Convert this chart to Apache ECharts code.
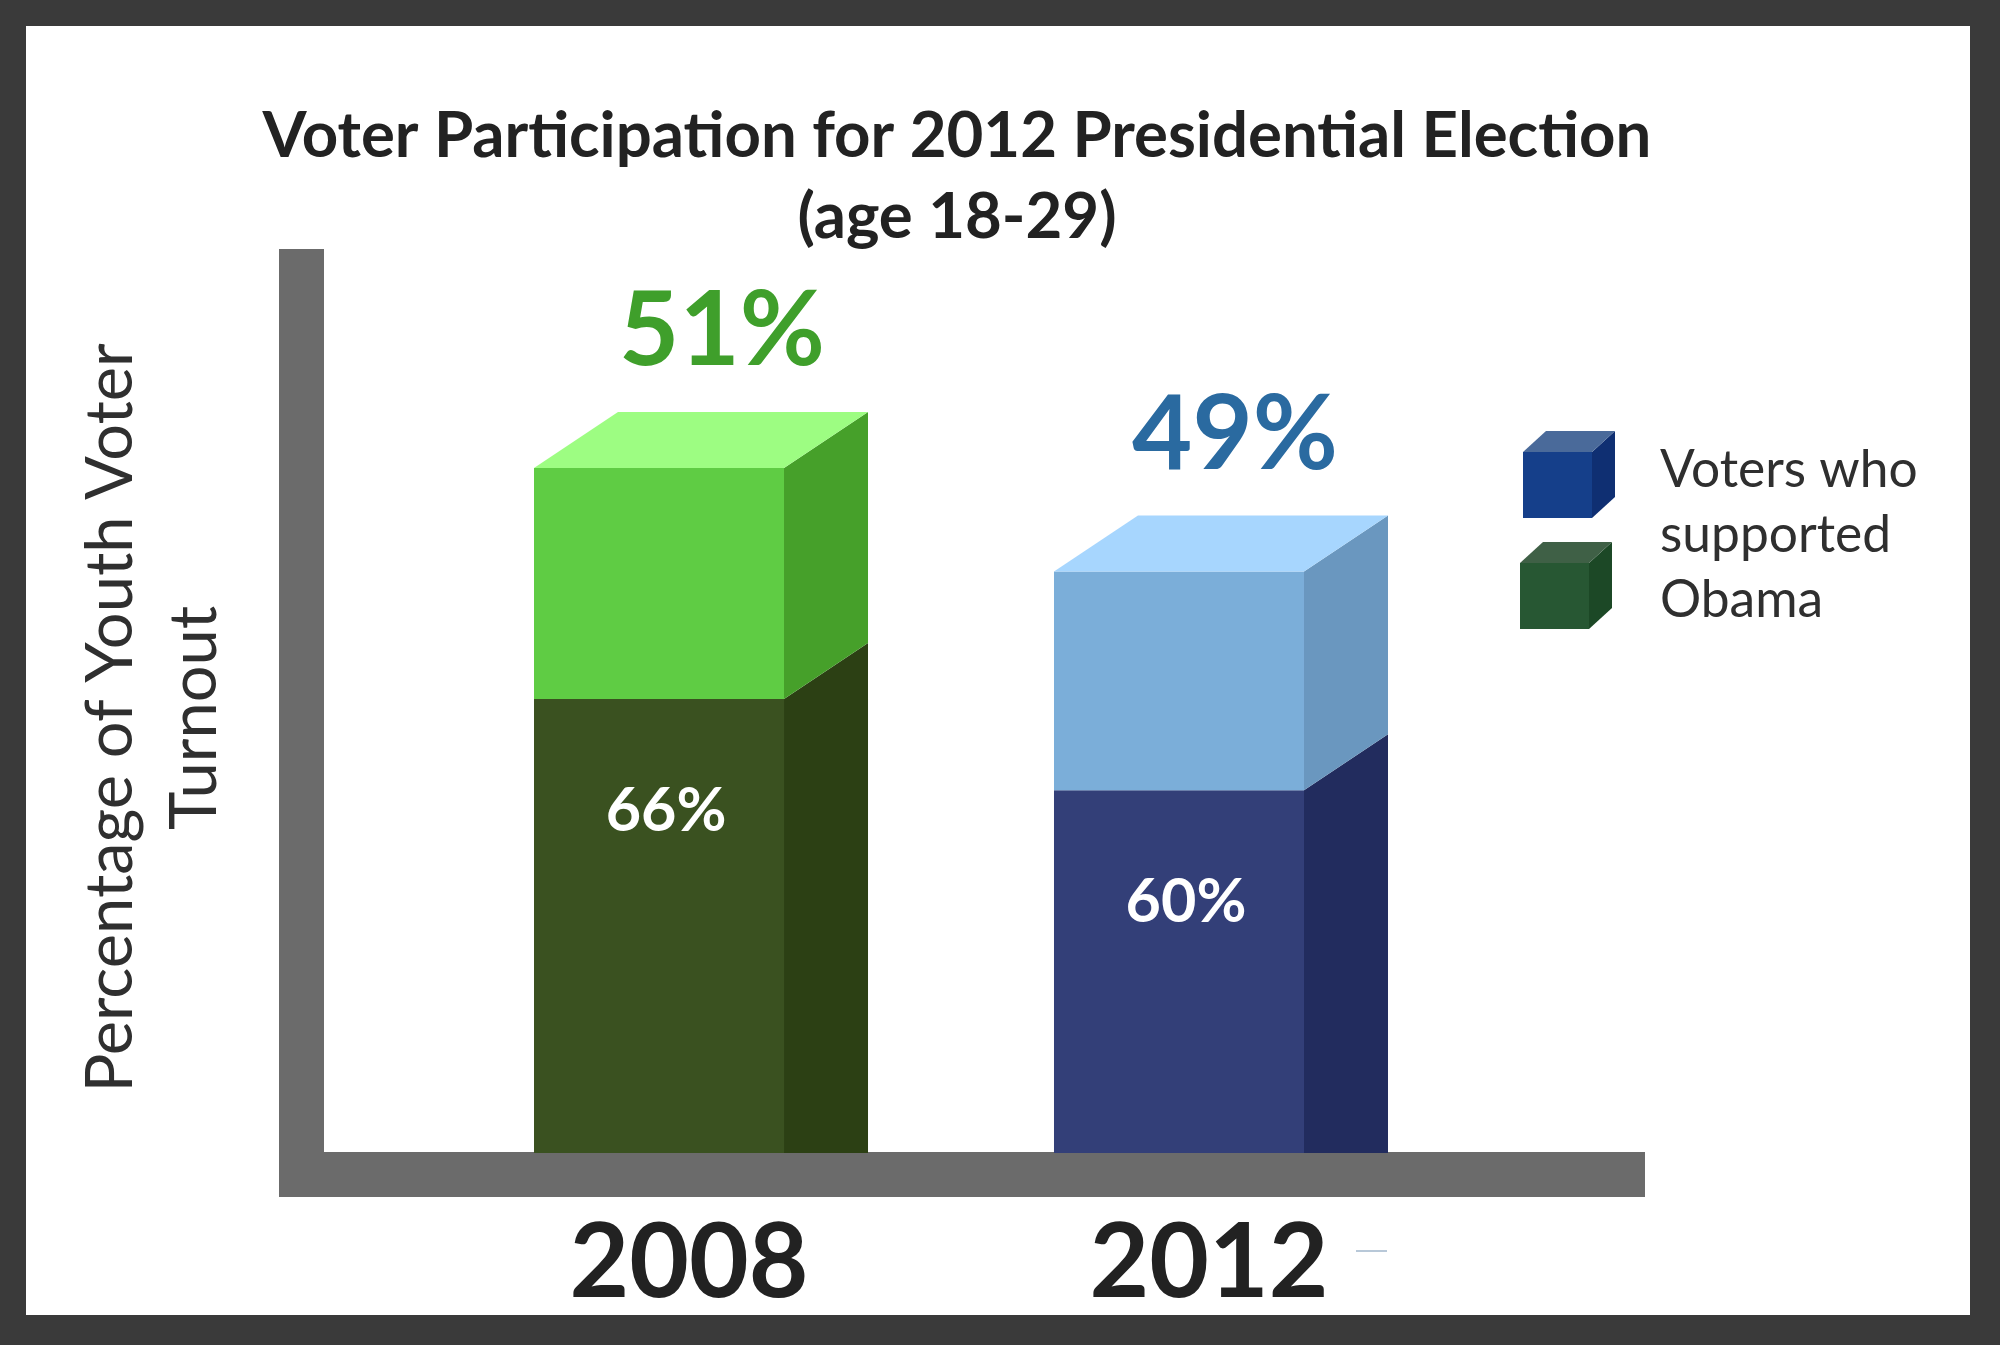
<!DOCTYPE html>
<html><head><meta charset="utf-8">
<style>html,body{margin:0;padding:0;background:#3a3a3a}#c{width:2000px;height:1345px}</style>
<script src="https://cdn.jsdelivr.net/npm/echarts@6/dist/echarts.min.js"></script>
</head><body><div id="c"></div>
<script>
const years = [2008, 2012];
const totalLabels = ['51%', '49%'];
const supporterLabels = ['66%', '60%'];
const barHeights = [51, 43.3];
const supporterHeights = [33.8, 27];
const titleText = 'Voter Participation for 2012 Presidential Election\n(age 18-29)';
const yName = 'Percentage of Youth Voter\nTurnout';
const legendText = 'Voters who\nsupported\nObama';

const FONT = 'Lato, "Open Sans", sans-serif';
const palettes = [
  {lf:'#5fcc44', ls:'#46a02a', lt:'#9dfd82', df:'#3a5120', ds:'#2c4014', label:'#3f9f2b'},
  {lf:'#7baed9', ls:'#6a97bf', lt:'#a7d6fe', df:'#333f78', ds:'#222c5e', label:'#2a6aa0'}
];
const FW = 250, SIDE = 84, DEPTH = 56, SHIFT = -155;

function poly(points, fill) {
  return {type:'polygon', shape:{points}, style:{fill}};
}
function renderBar(params, api) {
  const i = params.dataIndex, p = palettes[i];
  const base = api.coord([api.value(0), 0]);
  const top = api.coord([api.value(0), api.value(1)]);
  const mid = api.coord([api.value(0), api.value(2)]);
  const x0 = base[0] + SHIFT, x1 = x0 + FW, x2 = x1 + SIDE;
  const y0 = base[1], yt = top[1], ym = mid[1];
  return {type:'group', children:[
    poly([[x0,y0],[x1,y0],[x1,ym],[x0,ym]], p.df),
    poly([[x1,y0],[x2,y0],[x2,ym-DEPTH],[x1,ym]], p.ds),
    poly([[x0,ym],[x1,ym],[x1,yt],[x0,yt]], p.lf),
    poly([[x1,ym],[x2,ym-DEPTH],[x2,yt-DEPTH],[x1,yt]], p.ls),
    poly([[x0,yt],[x1,yt],[x2,yt-DEPTH],[x0+SIDE,yt-DEPTH]], p.lt),
    {type:'text', style:{x:base[0]+(i===0?33:26), y:yt-136, text:totalLabels[i], fill:p.label,
      font:'bold 104px '+FONT, textAlign:'center', textVerticalAlign:'middle'}},
    {type:'text', style:{x:x0+FW/2+7, y:ym+112, text:supporterLabels[i], fill:'#ffffff',
      font:'bold 61px '+FONT, textAlign:'center', textVerticalAlign:'middle'}}
  ]};
}
function cube(x0,x1,x2,yTop,yFront,yBot,f,s,t){
  return [
    {type:'polygon', shape:{points:[[x0,yFront],[x1,yFront],[x1,yBot],[x0,yBot]]}, style:{fill:f}},
    {type:'polygon', shape:{points:[[x1,yFront],[x2,yTop],[x2,yBot-(yFront-yTop)],[x1,yBot]]}, style:{fill:s}},
    {type:'polygon', shape:{points:[[x0,yFront],[x1,yFront],[x2,yTop],[x0+(x2-x1),yTop]]}, style:{fill:t}}
  ];
}
const chart = echarts.init(document.getElementById('c'), null, {renderer:'canvas'});
chart.setOption({
  animation:false,
  backgroundColor:'#3a3a3a',
  title:{text:titleText, left:952, top:91, textAlign:'center',
    textStyle:{fontFamily:FONT, fontWeight:'bold', fontSize:63.5, lineHeight:81, color:'#222222'}},
  grid:{left:279, right:355, top:249, bottom:192, outerBoundsMode:'none'},
  xAxis:{type:'value', min:2004.846, max:2015.354, splitLine:{show:false},
    axisTick:{show:false},
    axisLine:{show:true, onZero:false, lineStyle:{color:'#6b6b6b', width:45, cap:'butt'}},
    offset:21.5,
    axisLabel:{customValues:years, margin:38, formatter:v=>String(v),
      fontFamily:FONT, fontWeight:'bold', fontSize:103, color:'#222222'}},
  yAxis:{type:'value', min:0, max:67.3, splitLine:{show:false},
    axisTick:{show:false}, axisLabel:{show:false},
    axisLine:{show:true, onZero:false, lineStyle:{color:'#6b6b6b', width:45, cap:'butt'}},
    offset:-22.5,
    name:yName, nameLocation:'middle', nameRotate:90, nameGap:38,
    nameTextStyle:{fontFamily:FONT, fontSize:65, lineHeight:84, color:'#2f2f2f', padding:[0,34,26,0]}},
  graphic:[
    {type:'rect', z:-10, shape:{x:26,y:26,width:1944,height:1289}, style:{fill:'#ffffff'}, silent:true},
    {type:'group', z:5, children:cube(1523,1592,1615,431,452,518,'#153f8a','#0f2f72','#4a6a9a')},
    {type:'group', z:5, children:cube(1520,1589,1612,542,563,629,'#275733','#1c4826','#3f6046')},
    {type:'text', z:5, style:{x:1660, y:438, text:legendText, fill:'#2f2f2f', font:'51.5px '+FONT, lineHeight:65}},
    {type:'rect', z:5, shape:{x:1356,y:1250,width:31,height:2}, style:{fill:'#b8c8d8'}}
  ],
  series:[{type:'custom', renderItem:renderBar, clip:false, z:4,
    encode:{x:0,y:1},
    data:years.map((y,i)=>[y,barHeights[i],supporterHeights[i]])}]
});
</script></body></html>
